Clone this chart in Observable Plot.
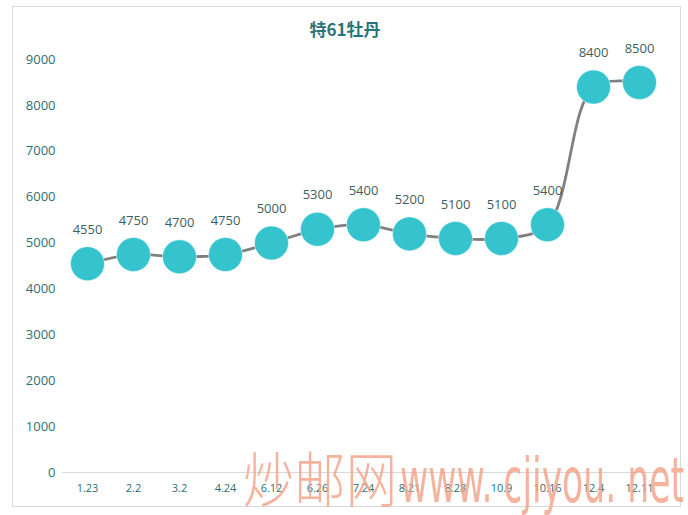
<!DOCTYPE html>
<html>
<head>
<meta charset="utf-8">
<script src="https://cdn.jsdelivr.net/npm/d3@7"></script>
<script src="https://cdn.jsdelivr.net/npm/@observablehq/plot@0.6"></script>
<style>
  html, body { margin: 0; padding: 0; background: #fff; }
  #wrap { position: relative; width: 688px; height: 515px; overflow: hidden; font-family: "Open Sans", "Noto Sans", sans-serif; }
  #frame { position: absolute; left: 12px; top: 6px; width: 669px; height: 501px; border: 1px solid #d9d9d9; box-sizing: border-box; pointer-events: none; }
  #title { position: absolute; left: 2px; right: 0; top: 16px; text-align: center; font-family: "Noto Sans CJK SC", sans-serif; font-weight: bold; font-size: 17px; color: #2a7479; }
  #chart { position: absolute; left: 0; top: 0; }
  #wm { position: absolute; left: 0; top: 0; pointer-events: none; }
</style>
</head>
<body>
<div id="wrap">
  <div id="chart"></div>
  <div id="frame"></div>
  <div id="title">特61牡丹</div>
  <svg id="wm" width="688" height="515">
    <text x="243" y="502" font-family="Noto Sans CJK SC" font-weight="300" font-size="60" fill="#f2a084" fill-opacity="0.8" textLength="154" lengthAdjust="spacingAndGlyphs">炒邮网</text>
    <text x="400" y="502" font-family="DejaVu Sans Condensed, Liberation Sans Narrow, sans-serif" font-size="62" fill="#f2a084" fill-opacity="0.8" textLength="284" lengthAdjust="spacingAndGlyphs">www. cjiyou. net</text>
  </svg>
</div>
<script>
const dates = ["1.23","2.2","3.2","4.24","6.12","6.26","7.24","8.21","8.28","10.9","10.16","12.4","12.11"];
const prices = [4550,4750,4700,4750,5000,5300,5400,5200,5100,5100,5400,8400,8500];
const yTicks = [0,1000,2000,3000,4000,5000,6000,7000,8000,9000];

const data = dates.map((d, i) => ({date: d, price: prices[i]}));

const chart = Plot.plot({
  width: 688,
  height: 515,
  marginLeft: 62,
  marginRight: 24,
  marginTop: 59,
  marginBottom: 43,
  style: {fontFamily: "Open Sans, Noto Sans, sans-serif", background: "transparent"},
  x: {type: "point", domain: dates, padding: 0.5, label: null},
  y: {domain: [0, 9000], label: null},
  marks: [
    Plot.ruleY([0], {stroke: "#d9d9d9", strokeWidth: 1}),
    Plot.axisY({ticks: yTicks, tickSize: 0, tickPadding: 7, fontSize: 13, color: "#2d6f76", label: null, tickFormat: d => String(d)}),
    Plot.axisX({tickSize: 0, tickPadding: 12, fontSize: 11, color: "#2d6f76", label: null}),
    Plot.line(data, {x: "date", y: "price", curve: "catmull-rom", stroke: "#808080", strokeWidth: 2.8}),
    Plot.dot(data, {x: "date", y: "price", r: 17, fill: "#35c4ce", stroke: "#ffffff", strokeWidth: 0.5}),
    Plot.text(data, {x: "date", y: "price", text: d => String(d.price), dy: -34, fontSize: 13, fill: "#3b5e63"})
  ]
});
document.getElementById("chart").appendChild(chart);
</script>
</body>
</html>
